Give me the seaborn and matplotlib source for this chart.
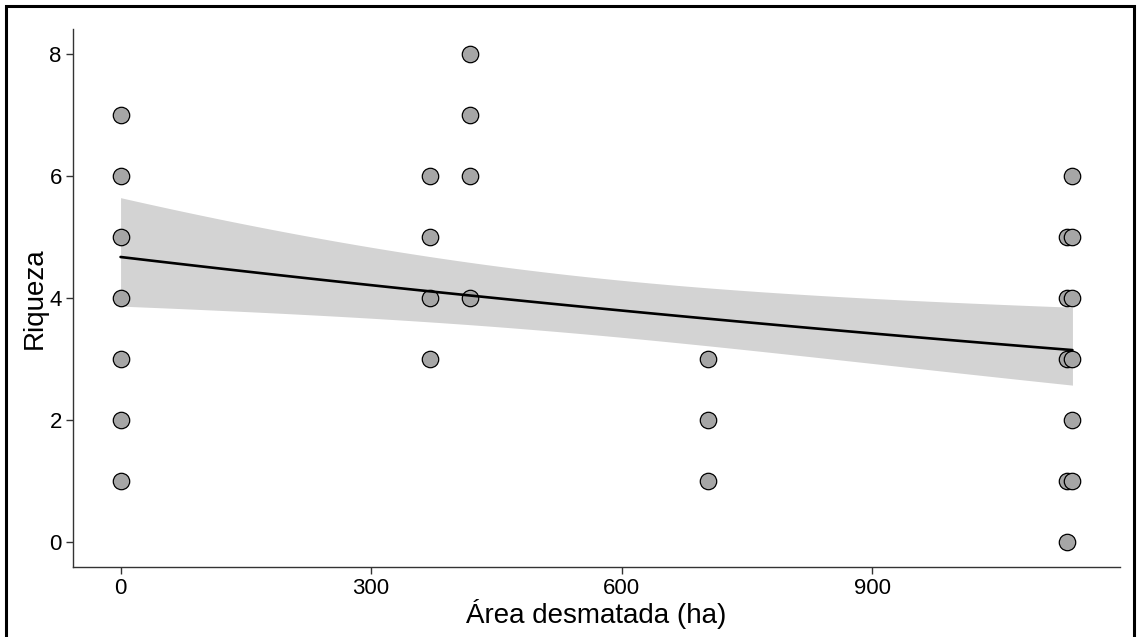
import numpy as np
import pandas as pd
import matplotlib
matplotlib.use('Agg')
import matplotlib.pyplot as plt
import seaborn as sns

# Dados (área desmatada em ha, riqueza de espécies)
area = [0, 0, 0, 0, 0, 0, 0,
        370, 370, 370, 370,
        418, 418, 418, 418,
        703, 703, 703,
        1134, 1134, 1134, 1134, 1134,
        1140, 1140, 1140, 1140, 1140, 1140]
riqueza = [1, 2, 3, 4, 5, 6, 7,
           3, 4, 5, 6,
           4, 6, 7, 8,
           1, 2, 3,
           0, 1, 3, 4, 5,
           1, 2, 3, 4, 5, 6]
x_ticks = [0, 300, 600, 900]
y_ticks = [0, 2, 4, 6, 8]

df = pd.DataFrame({'area': area, 'riqueza': riqueza})


# Ajuste GLM Poisson (IRLS) para a linha e a banda de confiança
def poisson_glm(x, y, n_iter=50):
    X = np.column_stack([np.ones_like(x), x])
    beta = np.array([np.log(y.mean()), 0.0])
    for _ in range(n_iter):
        eta = X @ beta
        mu = np.exp(eta)
        z = eta + (y - mu) / mu
        XtW = X.T * mu
        beta = np.linalg.solve(XtW @ X, XtW @ z)
    mu = np.exp(X @ beta)
    cov = np.linalg.inv((X.T * mu) @ X)
    return beta, cov


x = df['area'].to_numpy(float)
y = df['riqueza'].to_numpy(float)
beta, cov = poisson_glm(x, y)
grid = np.linspace(x.min(), x.max(), 100)
Xg = np.column_stack([np.ones_like(grid), grid])
eta = Xg @ beta
se = np.sqrt(np.einsum('ij,jk,ik->i', Xg, cov, Xg))
z_ci = 1.28  # banda de 80%
fit = np.exp(eta)
lower = np.exp(eta - z_ci * se)
upper = np.exp(eta + z_ci * se)

sns.set_style('ticks')
plt.rcParams['font.family'] = ['Liberation Sans', 'DejaVu Sans']
plt.rcParams['text.color'] = 'black'
plt.rcParams['axes.labelcolor'] = 'black'
plt.rcParams['xtick.labelcolor'] = 'black'
plt.rcParams['ytick.labelcolor'] = 'black'

fig = plt.figure(figsize=(11.4, 6.37), dpi=100)
ax = fig.add_axes([0.064, 0.110, 0.9185, 0.844])

ax.fill_between(grid, lower, upper, color='#d3d3d3', linewidth=0, zorder=1)
sns.scatterplot(data=df, x='area', y='riqueza', s=140, color='#a6a6a6',
                edgecolor='black', linewidth=0.9, ax=ax, zorder=2)
ax.plot(grid, fit, color='black', linewidth=1.9, zorder=3)

xmax = x.max()
ax.set_xlim(-0.05 * xmax, 1.05 * xmax)
ax.set_ylim(-0.4, 8.4)
ax.set_xticks(x_ticks)
ax.set_yticks(y_ticks)
ax.tick_params(labelsize=16, length=5, width=1, color='#333333', pad=3)
for s in ['left', 'bottom']:
    ax.spines[s].set_linewidth(1)
    ax.spines[s].set_color('#333333')
sns.despine(ax=ax)
ax.set_xlabel('Área desmatada (ha)', fontsize=20, labelpad=0)
ax.set_ylabel('Riqueza', fontsize=20, labelpad=1)

# Moldura preta em volta da figura
frame = plt.Rectangle((0.0053, -0.1), 0.9895, 1.091, transform=fig.transFigure,
                      fill=False, edgecolor='black', linewidth=2.2)
fig.add_artist(frame)

fig.savefig('out.png', dpi=100)
